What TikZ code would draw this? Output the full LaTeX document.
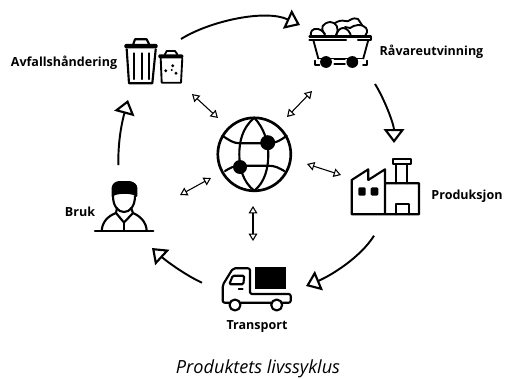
\documentclass[tikz,border=0pt]{standalone}
\usepackage{fontspec}
\setmainfont{Open Sans}
\usetikzlibrary{arrows.meta}
\tikzset{
  x=0.75pt,y=-0.75pt,
  label/.style={font=\fontsize{9.4}{11}\selectfont\bfseries,inner sep=0pt,text=black},
  caption/.style={font=\fontsize{13.6}{16}\selectfont\itshape,inner sep=0pt,text=black},
  icon/.style={line width=1.6pt,line join=round,line cap=round,black},
  thinicon/.style={line width=1.4pt,line join=round,line cap=round,black},
  flow/.style={line width=1.45pt,black,-{Triangle[open,length=10.5pt,width=15.5pt,line width=1.6pt]}},
  link/.style={line width=0.8pt,black,{Triangle[open,length=5.5pt,width=6.5pt,line width=0.8pt]}-{Triangle[open,length=5.5pt,width=6.5pt,line width=0.8pt]}},
}
\begin{document}
\begin{tikzpicture}
\useasboundingbox (0,0) rectangle (505,378);
% globe
\draw[icon,line width=2pt] (254.3,154.3) circle (36.5);
\draw[icon] (254.3,117.8) .. controls (242,128) and (239.3,142) .. (239.3,154.3) .. controls (239.3,168) and (243,182) .. (254.3,190.8);
\draw[icon] (254.3,117.8) .. controls (264,128) and (268.3,142) .. (268.3,154.3) .. controls (268.3,168) and (265,182) .. (254.3,190.8);
\draw[icon] (222.3,135.7) .. controls (229,140) and (233,143.3) .. (240,143.3) -- (268.3,143.3) .. controls (276,143.3) and (281,140) .. (286.7,135.7);
\draw[icon] (225,171) .. controls (230,168) and (234,165.7) .. (240,165.7) -- (268.3,165.7) .. controls (275,165.7) and (279,168) .. (284.3,171);
\fill (267.7,142.7) circle (7.5);
\fill (240,167) circle (7);
% trash bins
\fill[rounded corners=1pt] (124.3,44) rectangle (157.7,48.3);
\draw[icon] (133.3,44) -- (135,39.3) -- (146.7,39.3) -- (149,44);
\draw[icon] (126.7,49.3) -- (129,83.3) -- (152.3,83.3) -- (155.7,49.3);
\draw[icon] (134,53.3) -- (134,79) (141.7,53.3) -- (141.7,79) (149,53.3) -- (149,79);
\fill[rounded corners=1pt] (158.3,54.3) rectangle (183.3,58.3);
\draw[thinicon] (165,54.3) -- (166.7,51) -- (175,51) -- (177.3,54.3);
\draw[thinicon] (160.7,58.3) -- (161.7,82.7) -- (181,82.7) -- (182.3,58.3);
\fill (172.7,65.7) circle (1.6) (165.7,70.7) circle (1.6) (176,73.3) circle (1.6) (171.7,70) circle (1.2);
% mine cart
\draw[thinicon] (318,29) .. controls (312,28) and (310,32) .. (311,36);
\draw[thinicon] (318,29) .. controls (322,30) and (325,33) .. (325,36);
\draw[thinicon] (325,34) .. controls (319,28) and (323,23) .. (330,22) .. controls (336,22) and (340,28) .. (336,35);
\draw[thinicon] (336,36) .. controls (337,31) and (340,28) .. (343,28) .. controls (347,28) and (350,32) .. (351,36);
\draw[thinicon] (335,23) .. controls (338,21) and (342,20) .. (345,21) .. controls (347,22) and (349,21) .. (350,20);
\draw[thinicon] (350,20) .. controls (353,18) and (356,18) .. (358,19) -- (362,25);
\draw[thinicon] (350,28) .. controls (354,25) and (362,23) .. (366,28) .. controls (368,31) and (367,34) .. (365,36);
\draw[thinicon] (345,27) -- (350,28);
\draw[icon] (309.5,36.5) -- (371,36.5) -- (371,40) -- (358,40) (346,40) -- (309.5,40) -- cycle;
\draw[thinicon] (313.3,40) -- (318.3,58.5) (363.3,58.5) -- (368.3,40);
\draw[thinicon] (318.3,58.5) -- (363.3,58.5);
\fill (326,62) circle (5.9) (352.3,62) circle (5.9);
\draw[thinicon] (334.3,59.3) -- (345,59.3) (334.3,64) -- (345,64);
\draw[thinicon] (315,60.7) -- (315,65) -- (319.3,65) (367,60.7) -- (367,65) -- (363,65);
% factory
\draw[icon] (385,214.3) -- (351.7,214.3) -- (351.7,180) -- (368.3,169.3) -- (368.3,180) -- (385,169.3) -- (385,214.3) -- (419,214.3) -- (419,183.3) -- (385,183.3);
\draw[icon] (395.7,183.3) -- (395.7,164.3) (407.3,183.3) -- (407.3,164.3);
\draw[icon] (393.3,159) rectangle (410.7,164.3);
\draw[icon] (395.7,214.3) -- (395.7,204.3) -- (409,204.3) -- (409,214.3);
\fill[rounded corners=1pt] (358.3,187.3) rectangle (365.7,195.7);
\fill[rounded corners=1pt] (370.7,187.3) rectangle (378.3,195.7);
% truck
\fill (255,266.7) rectangle (285.7,289);
\draw[icon,rounded corners=1.5pt] (250,302.7) -- (222.7,302.7) -- (222.7,285) -- (233,268.3) -- (250,268.3) -- (250,294) -- (290.7,294) -- (290.7,302.7) -- (250,302.7);
\draw[icon,rounded corners=1pt] (229.3,284.3) -- (232.7,275.7) -- (244.3,275.7) -- (243.3,284.3) -- cycle;
\draw[thinicon] (238.7,288.7) -- (242.7,288.7);
\draw[icon,fill=white] (235,305) circle (5.5) (276.7,305) circle (5.5);
% person
\fill[rounded corners=2pt] (111.7,198.3) -- (111.7,185) -- (116.7,181) -- (131.7,181) -- (137.3,185) -- (137.3,198.3) .. controls (133,193) and (116,193) .. (111.7,198.3) -- cycle;
\draw[icon] (113,196) .. controls (113,206) and (118,212) .. (124,212) .. controls (130,212) and (135,206) .. (135,196);
\draw[icon] (95,231) -- (153.3,231);
\draw[icon] (101.7,231) .. controls (102,222) and (108,216) .. (116,213) -- (124,222.5) -- (133,213) .. controls (140,216) and (146.5,222) .. (146.7,231);
\draw[icon] (124,222.5) -- (124,231);
\draw[icon] (117,208) -- (116,213) (131,208) -- (133,213);
% labels
\node[label] (avfall) at (64,63) {Avfallshåndering};
\node[label] (ravare) at (431.5,52) {Råvareutvinning};
\node[label] (prod) at (467,196) {Produksjon};
\node[label] (transport) at (257,327) {Transport};
\node[label] (bruk) at (80,212) {Bruk};
\node[caption] (cap) at (258,369) {Produktets livssyklus};
% connector ends
\coordinate (a1) at (181,39);  \coordinate (a2) at (300,25);
\coordinate (b1) at (375,84);  \coordinate (b2) at (394,143);
\coordinate (c1) at (374,235.7); \coordinate (c2) at (306,286);
\coordinate (d1) at (202,282.7); \coordinate (d2) at (152,248);
\coordinate (e1) at (118.3,165); \coordinate (e2) at (128,100);
\draw[flow] (a1) .. controls (210,21) and (265,9) .. (a2);
\draw[flow] (b1) .. controls (385,100) and (394,125) .. (b2);
\draw[flow] (c1) .. controls (360,258) and (330,276) .. (c2);
\draw[flow] (d1) .. controls (185,275) and (165,260) .. (d2);
\draw[flow] (e1) .. controls (118,140) and (122,122) .. (e2);
\coordinate (la1) at (192,94);  \coordinate (la2) at (218,118);
\coordinate (lb1) at (180,195); \coordinate (lb2) at (211,178);
\coordinate (lc1) at (312,91);  \coordinate (lc2) at (287,117);
\coordinate (ld1) at (307,164); \coordinate (ld2) at (341,175);
\coordinate (le1) at (253,206); \coordinate (le2) at (253,241);
\draw[link] (la1) -- (la2);
\draw[link] (lb1) -- (lb2);
\draw[link] (lc1) -- (lc2);
\draw[link] (ld1) -- (ld2);
\draw[link] (le1) -- (le2);
\end{tikzpicture}
\end{document}
